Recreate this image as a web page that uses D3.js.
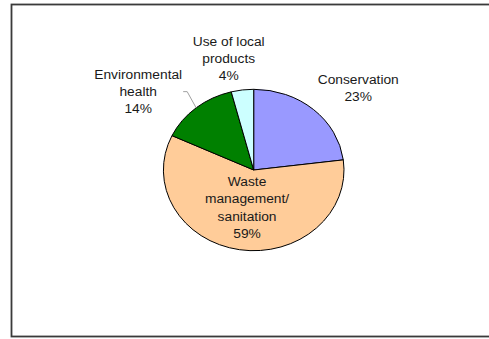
<!DOCTYPE html>
<html>
<head>
<meta charset="utf-8">
<script src="https://cdn.jsdelivr.net/npm/d3@7"></script>
<style>
  body { margin: 0; background: #fff; }
  svg { display: block; }
  text { font-family: "Liberation Sans", Arial, sans-serif; font-size: 12.3px; fill: #1a1a1a; }
</style>
</head>
<body>
<div id="chart"></div>
<script>
// slices, clockwise from 12 o'clock
var categories = ["Conservation", "Waste management/ sanitation", "Environmental health", "Use of local products"];
var values = [23, 59, 14, 4];
var labelLines = [["Conservation"], ["Waste", "management/", "sanitation"], ["Environmental", "health"], ["Use of local", "products"]];
var colors = ["#9999ff", "#ffcc99", "#008000", "#ccffff"];
// how each data label is placed
var labelMode = ["outside", "inside", "leader", "outside"];

var width = 489, height = 339;
var cx = 253.7, cy = 170, rx = 90.3, ry = 80.7;
var sx = rx / ry;      // the whole picture is stretched sideways
var lineH = 17.3;

var svg = d3.select('#chart').append('svg')
    .attr("width", width)
    .attr("height", height);

// chart frame (runs off the right edge)
svg.append("rect")
    .attr("x", 11.5).attr("y", 4.5)
    .attr("width", 500).attr("height", 332)
    .attr("fill", "none")
    .attr("stroke", "#3a3a3a")
    .attr("stroke-width", 1.8);

var data = categories.map(function (c, i) {
    return { name: c, value: values[i], lines: labelLines[i], mode: labelMode[i], color: colors[i] };
});

var pie = d3.pie().sort(null).value(d => d.value);
var arc = d3.arc().innerRadius(0).outerRadius(ry);
var arcs = pie(data);
var total = d3.sum(values);

var pieG = svg.append("g")
    .attr("transform", "translate(" + cx + "," + cy + ") scale(" + sx + ",1)");

pieG.selectAll("path")
    .data(arcs)
    .enter().append("path")
    .attr("d", arc)
    .attr("fill", d => d.data.color)
    .attr("stroke", "#000")
    .attr("stroke-width", 1)
    .attr("vector-effect", "non-scaling-stroke");

function ellipsePoint(a, k) {
    return [cx + rx * k * Math.sin(a), cy - ry * k * Math.cos(a)];
}
function clamp(v) { return Math.max(-1, Math.min(1, v)); }

// Data labels
arcs.forEach(function (d) {
    var mid = (d.startAngle + d.endAngle) / 2;
    var lines = d.data.lines.concat([Math.round(d.data.value / total * 100) + "%"]);
    var n = lines.length;

    var t = svg.append("text").attr("text-anchor", "middle");
    lines.forEach(function (l, i) {
        t.append("tspan")
            .attr("x", 0)
            .attr("y", (i - (n - 1) / 2) * lineH + 4.5)
            .text(l);
    });
    var w = t.node().getBBox().width * sx;
    var h = n * lineH;

    var lx, ly;
    if (d.data.mode == "inside") {
        var p = ellipsePoint(mid, 0.47);
        lx = p[0]; ly = p[1];
    } else if (d.data.mode == "outside") {
        var p = ellipsePoint(mid, 1.07);
        lx = p[0] + w / 2 * clamp(Math.sin(mid) / 0.35);
        ly = p[1] - h / 2 * clamp(Math.cos(mid) / 0.5);
    } else {
        var p = ellipsePoint(mid, 1.26);
        var e = ellipsePoint(mid, 1.0);
        lx = p[0] - w / 2 + 1;
        ly = p[1];
        svg.append("path")
            .attr("d", d3.line()([[p[0] + 2, p[1]], [p[0] + 6, p[1]], e]))
            .attr("fill", "none")
            .attr("stroke", "#a0a0a0")
            .attr("stroke-width", 1);
    }
    t.attr("transform", "translate(" + lx + "," + ly + ") scale(" + sx + ",1)");
});
</script>
</body>
</html>
